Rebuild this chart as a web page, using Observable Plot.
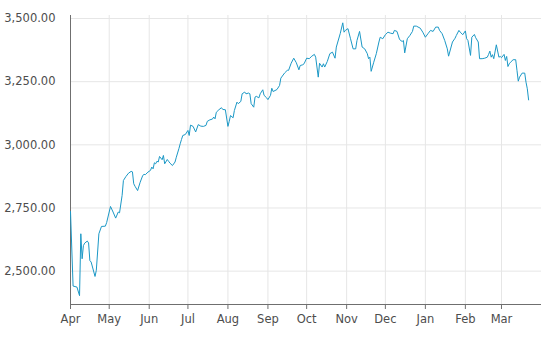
<!DOCTYPE html>
<html>
<head>
<meta charset="utf-8">
<script src="https://cdn.jsdelivr.net/npm/d3@7"></script>
<script src="https://cdn.jsdelivr.net/npm/@observablehq/plot@0.6"></script>
<style>
  html, body { margin: 0; padding: 0; background: #fff; }
  #chart { width: 549px; height: 339px; }
</style>
</head>
<body>
<div id="chart"></div>
<script>
const dates = [
"2021-04-01","2021-04-03","2021-04-06","2021-04-08","2021-04-09","2021-04-10","2021-04-11","2021-04-12","2021-04-14","2021-04-15",
"2021-04-16","2021-04-17","2021-04-20","2021-04-21","2021-04-23","2021-04-25","2021-04-28","2021-04-29","2021-05-02","2021-05-04",
"2021-05-06","2021-05-08","2021-05-09","2021-05-11","2021-05-12","2021-05-14","2021-05-16","2021-05-18","2021-05-19","2021-05-20",
"2021-05-21","2021-05-23","2021-05-25","2021-05-27","2021-05-28","2021-05-29","2021-05-31","2021-06-02","2021-06-03","2021-06-04",
"2021-06-05","2021-06-06","2021-06-07","2021-06-08","2021-06-09","2021-06-11","2021-06-12","2021-06-13","2021-06-15","2021-06-16",
"2021-06-17","2021-06-19","2021-06-21","2021-06-22","2021-06-24","2021-06-25","2021-06-26","2021-06-27","2021-06-29","2021-07-01",
"2021-07-02","2021-07-03","2021-07-05","2021-07-07","2021-07-09","2021-07-11","2021-07-13","2021-07-15","2021-07-16","2021-07-18",
"2021-07-20","2021-07-21","2021-07-22","2021-07-23","2021-07-25","2021-07-27","2021-07-28","2021-07-30","2021-08-01","2021-08-02",
"2021-08-03","2021-08-05","2021-08-06","2021-08-08","2021-08-09","2021-08-11","2021-08-12","2021-08-14","2021-08-15","2021-08-17",
"2021-08-18","2021-08-19","2021-08-21","2021-08-22","2021-08-23","2021-08-25","2021-08-26","2021-08-28","2021-08-29","2021-08-31",
"2021-09-01","2021-09-03","2021-09-04","2021-09-05","2021-09-08","2021-09-10","2021-09-11","2021-09-14","2021-09-16","2021-09-17",
"2021-09-19","2021-09-21","2021-09-23","2021-09-25","2021-09-26","2021-09-28","2021-09-29","2021-10-01","2021-10-03","2021-10-05",
"2021-10-07","2021-10-08","2021-10-10","2021-10-11","2021-10-13","2021-10-14","2021-10-15","2021-10-17","2021-10-19","2021-10-21",
"2021-10-23","2021-10-24","2021-10-27","2021-10-29","2021-10-30","2021-10-31","2021-11-02","2021-11-04","2021-11-06","2021-11-08",
"2021-11-09","2021-11-11","2021-11-13","2021-11-15","2021-11-17","2021-11-18","2021-11-19","2021-11-20","2021-11-22","2021-11-24",
"2021-11-26","2021-11-27","2021-11-29","2021-12-01","2021-12-03","2021-12-05","2021-12-07","2021-12-08","2021-12-10","2021-12-12",
"2021-12-14","2021-12-15","2021-12-16","2021-12-18","2021-12-20","2021-12-22","2021-12-23","2021-12-25","2021-12-28","2021-12-30",
"2022-01-01","2022-01-03","2022-01-05","2022-01-07","2022-01-09","2022-01-11","2022-01-12","2022-01-14","2022-01-16","2022-01-18",
"2022-01-19","2022-01-22","2022-01-24","2022-01-25","2022-01-27","2022-01-28","2022-01-30","2022-02-01","2022-02-02","2022-02-03",
"2022-02-05","2022-02-06","2022-02-08","2022-02-09","2022-02-11","2022-02-12","2022-02-14","2022-02-16","2022-02-18","2022-02-19",
"2022-02-20","2022-02-21","2022-02-22","2022-02-23","2022-02-25","2022-02-27","2022-02-28","2022-03-01","2022-03-03","2022-03-04",
"2022-03-05","2022-03-06","2022-03-07","2022-03-08","2022-03-10","2022-03-12","2022-03-13","2022-03-14","2022-03-15","2022-03-17",
"2022-03-19","2022-03-20","2022-03-21","2022-03-22"
];
const values = [
2736,2441,2437,2403,2648,2549,2601,2611,2619,2612,
2542,2536,2479,2503,2648,2677,2678,2692,2756,2734,
2710,2734,2731,2800,2859,2875,2888,2895,2893,2846,
2836,2819,2852,2879,2883,2882,2892,2899,2912,2905,
2929,2925,2935,2932,2954,2941,2958,2925,2942,2935,
2928,2918,2932,2951,2985,3004,3021,3037,3041,3057,
3037,3078,3073,3051,3080,3074,3073,3077,3093,3099,
3102,3110,3103,3129,3139,3147,3140,3139,3073,3093,
3116,3107,3136,3169,3163,3172,3202,3209,3202,3205,
3202,3163,3149,3189,3192,3186,3202,3218,3196,3186,
3179,3196,3224,3211,3219,3235,3264,3285,3295,3295,
3323,3343,3325,3297,3314,3317,3321,3343,3341,3351,
3358,3347,3268,3323,3308,3321,3308,3330,3361,3367,
3343,3387,3440,3483,3446,3453,3460,3420,3380,3380,
3413,3449,3387,3380,3361,3341,3347,3291,3327,3361,
3407,3426,3420,3436,3446,3442,3440,3453,3449,3417,
3409,3413,3364,3420,3433,3449,3470,3470,3462,3446,
3426,3440,3453,3449,3466,3466,3453,3440,3413,3380,
3351,3407,3422,3433,3453,3446,3436,3451,3420,3413,
3354,3426,3437,3424,3407,3341,3341,3343,3347,3358,
3371,3347,3357,3341,3396,3347,3350,3345,3358,3334,
3350,3310,3321,3327,3337,3337,3295,3252,3268,3284,
3284,3248,3222,3178
];
const monthTicks = ["2021-04-01","2021-05-01","2021-06-01","2021-07-01","2021-08-01","2021-09-01","2021-10-01","2021-11-01","2021-12-01","2022-01-01","2022-02-01","2022-03-01"];
const monthLabels = ["Apr","May","Jun","Jul","Aug","Sep","Oct","Nov","Dec","Jan","Feb","Mar"];
const yTicks = [2500, 2750, 3000, 3250, 3500];
const yTickLabels = ["2,500.00","2,750.00","3,000.00","3,250.00","3,500.00"];

const data = dates.map((d, i) => ({date: new Date(d), value: values[i]}));
const mTicks = monthTicks.map(d => new Date(d));
const xDomain = [new Date("2021-04-01"), new Date("2022-04-01")];
const yDomain = [2368, 3512];

const chart = Plot.plot({
  width: 549,
  height: 339,
  marginLeft: 70,
  marginRight: 8,
  marginTop: 15,
  marginBottom: 35,
  style: {fontFamily: "'DejaVu Sans', Verdana, sans-serif", fontSize: "11.5px", color: "#555", background: "#fff"},
  x: {type: "utc", domain: xDomain},
  y: {domain: yDomain},
  marks: [
    Plot.gridY(yTicks, {stroke: "#e6e6e6", strokeOpacity: 1}),
    Plot.gridX(mTicks, {stroke: "#e6e6e6", strokeOpacity: 1}),
    Plot.ruleY([yDomain[0]], {stroke: "#6f6f6f"}),
    Plot.ruleX([xDomain[0]], {stroke: "#6f6f6f"}),
    Plot.axisY(yTicks, {tickSize: 0, tickPadding: 15, tickFormat: (d, i) => yTickLabels[i], label: null, fill: "#4d4d4d"}),
    Plot.axisX(mTicks, {tickSize: 5, tickPadding: 5, tickFormat: (d, i) => monthLabels[i], label: null, stroke: "#6f6f6f", fill: "#4d4d4d"}),
    Plot.line(data, {x: "date", y: "value", stroke: "#1b98c6", strokeWidth: 1})
  ]
});
document.getElementById("chart").appendChild(chart);
</script>
</body>
</html>
